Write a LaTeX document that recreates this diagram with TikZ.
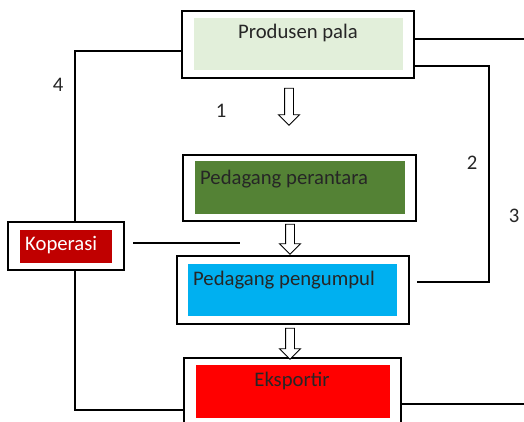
\documentclass[tikz,border=0pt]{standalone}
\usepackage{fontspec}
\setmainfont{Carlito}
\usepackage{tikz}
\usetikzlibrary{shapes.arrows}

\definecolor{paleGreen}{HTML}{E2EFDA}
\definecolor{oliveGreen}{HTML}{548235}
\definecolor{darkRed}{HTML}{C00000}
\definecolor{skyBlue}{HTML}{00B0F0}
\definecolor{brightRed}{HTML}{FF0000}
\definecolor{inkGray}{HTML}{262626}

\begin{document}
\begin{tikzpicture}[
  x=1pt, y=-1pt,
  frame/.style={rectangle, draw, line width=1.2pt, inner sep=0pt},
  panel/.style={rectangle, inner sep=0pt},
  caption/.style={inner sep=0pt, text=inkGray, font=\fontsize{20.7}{24}\selectfont},
  blockarrow/.style={single arrow, draw, fill=white, line width=0.9pt, inner xsep=0pt, inner ysep=4pt, single arrow head extend=6pt, single arrow tip angle=90, rotate=-90},
  link/.style={line width=1.5pt}
]
\useasboundingbox (0,0) rectangle (524,422);

% boxes
\node[frame, minimum width=232pt, minimum height=67pt] (produsen) at (298,44.5) {};
\node[panel, fill=paleGreen, minimum width=209pt, minimum height=52pt] (produsenFill) at (298.5,44) {};
\node[caption, anchor=base] (produsenText) at (298,39) {Produsen pala};

\node[frame, minimum width=233pt, minimum height=66pt] (perantara) at (299.5,188) {};
\node[panel, fill=oliveGreen, minimum width=210pt, minimum height=52pt] (perantaraFill) at (300,187.5) {};
\node[caption, anchor=base west] (perantaraText) at (200,185) {Pedagang perantara};

\node[frame, minimum width=116pt, minimum height=48pt] (koperasi) at (66,246) {};
\node[panel, fill=darkRed, minimum width=92pt, minimum height=33pt] (koperasiFill) at (66,246.5) {};
\node[caption, anchor=base west, text=white] (koperasiText) at (25,250) {Koperasi};

\node[frame, minimum width=232pt, minimum height=68pt] (pengumpul) at (293,290) {};
\node[panel, fill=skyBlue, minimum width=209pt, minimum height=52pt] (pengumpulFill) at (292.5,290) {};
\node[caption, anchor=base west] (pengumpulText) at (193,285) {Pedagang pengumpul};

\node[frame, minimum width=217pt, minimum height=70pt] (eksportir) at (292.5,393) {};
\node[panel, fill=brightRed, minimum width=194pt, minimum height=53pt] (eksportirFill) at (293,391.5) {};
\node[caption, anchor=base] (eksportirText) at (292,386) {Eksportir};

% block arrows
\node[blockarrow, minimum height=37pt] (down1) at (289,104.5) {};
\node[blockarrow, minimum height=30pt] (down2) at (290,237) {};
\node[blockarrow, minimum height=31pt] (down3) at (290,341.5) {};

% numbers
\node[caption, anchor=base] (num1) at (221,118) {1};
\node[caption, anchor=base] (num2) at (472,170) {2};
\node[caption, anchor=base] (num3) at (514,222) {3};
\node[caption, anchor=base] (num4) at (58,92) {4};

% connectors
\coordinate (leftTop) at (75,51);
\coordinate (leftBottom) at (75,410);
\draw[link] (produsen.west |- leftTop) -- (leftTop) -- (leftTop |- koperasi.north);
\draw[link] (koperasi.south -| leftBottom) -- (leftBottom) -- (leftBottom -| eksportir.west);

\coordinate (kopStart) at (133,243);
\coordinate (kopEnd) at (240,243);
\draw[link] (kopStart) -- (kopEnd);

\coordinate (rightTop) at (524,39);
\draw[link] (produsen.east |- rightTop) -- (rightTop);

\coordinate (loopTop) at (489,66);
\coordinate (loopBottom) at (489,282);
\coordinate (loopEnd) at (417,282);
\draw[link] (produsen.east |- loopTop) -- (loopTop) -- (loopBottom) -- (loopEnd);

\coordinate (rightBottom) at (524,404);
\draw[link] (eksportir.east |- rightBottom) -- (rightBottom);
\end{tikzpicture}
\end{document}
